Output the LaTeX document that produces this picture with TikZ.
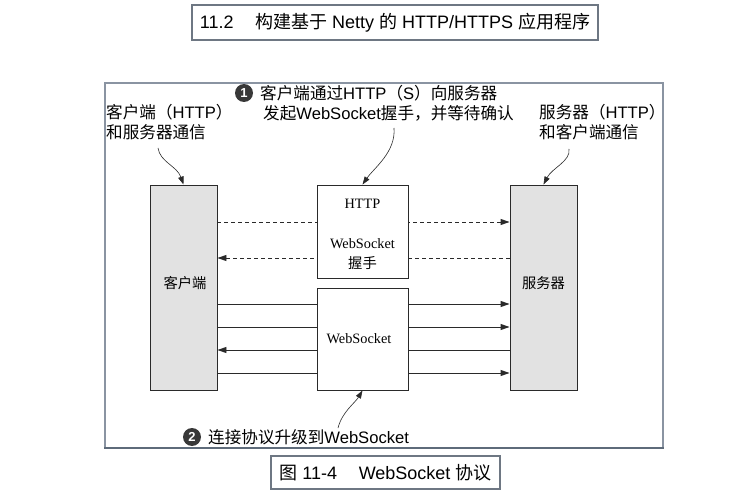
\documentclass[tikz,border=0pt]{standalone}
\usepackage{fontspec}
\setmainfont{Liberation Sans}
\newfontfamily\cjk{Noto Sans CJK SC}
\newfontfamily\serifw{Liberation Serif}
\usetikzlibrary{arrows.meta}
\definecolor{framec}{HTML}{8A94A2}
\definecolor{framebot}{HTML}{5E6B7A}
\definecolor{titlec}{HTML}{6E7783}
\definecolor{boxfill}{HTML}{E2E2E2}
\definecolor{linec}{HTML}{2A2A2A}
\definecolor{numfill}{HTML}{383838}
\tikzset{
  titlebox/.style={draw=titlec, line width=1.2pt, fill=white, inner sep=0pt, font=\fontsize{18}{20}\selectfont},
  sidebox/.style={draw=linec, line width=0.9pt, fill=boxfill, minimum width=67pt, minimum height=205pt, inner sep=0pt},
  midbox/.style={draw=linec, line width=0.9pt, fill=white, minimum width=91pt, inner sep=0pt},
  boxtext/.style={inner sep=0pt, font=\serifw\fontsize{14.3}{17}\selectfont},
  anno/.style={inner sep=0pt, anchor=west, font=\fontsize{16.6}{20}\selectfont},
  numc/.style={circle, fill=numfill, text=white, inner sep=0pt, minimum size=18pt, font=\bfseries\fontsize{13}{14}\selectfont},
  flowline/.style={draw=linec, line width=0.9pt, -{Triangle[length=9pt,width=6pt]}},
  dashline/.style={flowline, dash pattern=on 4pt off 3pt},
  curvearrow/.style={draw=linec, line width=0.6pt, -{Triangle[length=8pt,width=5.5pt]}}
}
\begin{document}
\begin{tikzpicture}[x=1pt,y=-1pt]
\useasboundingbox (0,0) rectangle (740,500);
% outer frame
\draw[framec, line width=1.3pt] (105,83) rectangle (663,448);
\draw[framebot, line width=2pt] (104.35,448) -- (663.65,448);
% title and caption
\node[titlebox, minimum width=406pt, minimum height=35pt] (title) at (395,22.5)
  {11.2\hspace{1.2em}{\cjk 构建基于} Netty {\cjk 的} HTTP/HTTPS {\cjk 应用程序}};
\node[titlebox, minimum width=229pt, minimum height=33pt] (caption) at (385.5,472.5)
  {{\cjk 图} 11-4\hspace{1.2em}WebSocket {\cjk 协议}};
% side boxes
\node[sidebox] (client) at (183.5,287.5) {};
\node[sidebox] (server) at (543.5,287.5) {};
\node[boxtext] (clientlbl) at (185,283) {\cjk 客户端};
\node[boxtext] (serverlbl) at (543.5,283) {\cjk 服务器};
% connectors
\draw[dashline] (client.east |- 0,222) -- (server.west |- 0,222);
\draw[dashline] (server.west |- 0,258) -- (client.east |- 0,258);
\draw[flowline] (client.east |- 0,304) -- (server.west |- 0,304);
\draw[flowline] (client.east |- 0,327) -- (server.west |- 0,327);
\draw[flowline] (server.west |- 0,350) -- (client.east |- 0,350);
\draw[flowline] (client.east |- 0,373) -- (server.west |- 0,373);
% middle boxes
\node[midbox, minimum height=93pt] (http) at (362.5,231.5) {};
\node[midbox, minimum height=102pt] (ws) at (362.5,339) {};
\node[boxtext] (httplbl) at (362.5,204) {HTTP};
\node[boxtext] (hslbl1) at (362.5,244) {WebSocket};
\node[boxtext] (hslbl2) at (362.5,263) {\cjk 握手};
\node[boxtext] (wslbl) at (359,339) {WebSocket};
% annotations
\node[numc] (n1) at (244,93) {1};
\node[anno] (t1a) at (260,93) {{\cjk 客户端通过}HTTP{\cjk （}S{\cjk ）向服务器}};
\node[anno] (t1b) at (263,113) {{\cjk 发起}WebSocket{\cjk 握手，并等待确认}};
\node[anno] (lc1) at (106,112) {{\cjk 客户端（}HTTP{\cjk ）}};
\node[anno] (lc2) at (106,132) {\cjk 和服务器通信};
\node[anno] (ls1) at (539,112) {{\cjk 服务器（}HTTP{\cjk ）}};
\node[anno] (ls2) at (539,132) {\cjk 和客户端通信};
\node[numc] (n2) at (192,437) {2};
\node[anno] (t2) at (208,437) {{\cjk 连接协议升级到}WebSocket};
% curved pointers
\coordinate (p1) at (158,148);
\coordinate (p2) at (394,128);
\coordinate (p3) at (569,149);
\coordinate (p4) at (338,428);
\draw[curvearrow] (p1) .. controls (160,162) and (177,166) .. (client.north);
\draw[curvearrow] (p2) .. controls (396,152) and (374,168) .. (http.north);
\draw[curvearrow] (p3) .. controls (571,161) and (552,168) .. (server.north);
\draw[curvearrow] (p4) .. controls (342,412) and (355,403) .. (ws.south);
\end{tikzpicture}
\end{document}
